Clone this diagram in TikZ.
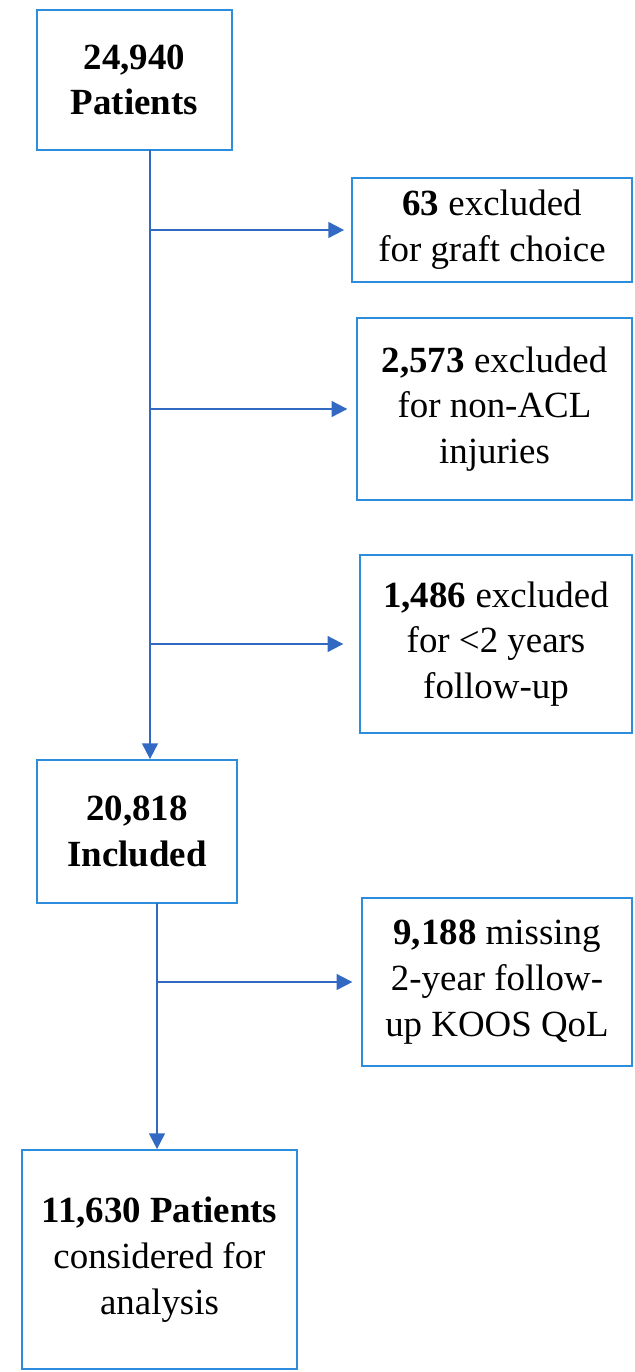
\documentclass[tikz,border=0pt]{standalone}
\usepackage{fontspec}
\setmainfont{Liberation Serif}
\usetikzlibrary{arrows.meta}

\definecolor{boxblue}{RGB}{45,140,220}
\definecolor{arrowblue}{RGB}{50,105,195}

\tikzset{
  flowbox/.style={draw=boxblue,line width=1pt,rectangle,align=center,
    inner sep=2pt,font=\fontsize{21}{26}\selectfont},
  flowarrow/.style={draw=arrowblue,line width=1.1pt,
    -{Triangle[length=9pt,width=9pt]}}
}

\begin{document}
\begin{tikzpicture}[x=0.02cm,y=-0.02cm]

\useasboundingbox (0,0) rectangle (635,1372);

\node (patients) at (134.5,80) [flowbox,minimum width=3.9cm,minimum height=2.8cm]
	{\textbf{24,940}\\\textbf{Patients}};
\node (graft) at (492,230) [flowbox,minimum width=5.6cm,minimum height=2.08cm]
	{\textbf{63} excluded\\for graft choice};
\node (nonacl) at (494.5,409) [flowbox,minimum width=5.5cm,minimum height=3.64cm]
	{\textbf{2,573} excluded\\for non-ACL\\injuries};
\node (followup) at (496,644) [flowbox,minimum width=5.44cm,minimum height=3.56cm]
	{\textbf{1,486} excluded\\for <2 years\\follow-up};
\node (included) at (137,831.5) [flowbox,minimum width=4.0cm,minimum height=2.86cm]
	{\textbf{20,818}\\\textbf{Included}};
\node (missing) at (497,982) [flowbox,minimum width=5.4cm,minimum height=3.36cm]
	{\textbf{9,188} missing\\2-year follow-\\up KOOS QoL};
\node (analysis) at (159.5,1259.5) [flowbox,minimum width=5.5cm,minimum height=4.38cm]
	{\textbf{11,630 Patients}\\considered for\\analysis};

\coordinate (trunkA) at (150,150);
\coordinate (trunkB) at (157,903);

\draw[flowarrow] (trunkA) -- (trunkA |- included.north);
\draw[flowarrow,shorten >=4pt] (trunkA |- graft.west) -- (graft.west);
\draw[flowarrow,shorten >=5pt] (trunkA |- nonacl.west) -- (nonacl.west);
\draw[flowarrow,shorten >=9pt] (trunkA |- followup.west) -- (followup.west);

\draw[flowarrow] (trunkB) -- (trunkB |- analysis.north);
\draw[flowarrow,shorten >=5pt] (trunkB |- missing.west) -- (missing.west);

\end{tikzpicture}
\end{document}
